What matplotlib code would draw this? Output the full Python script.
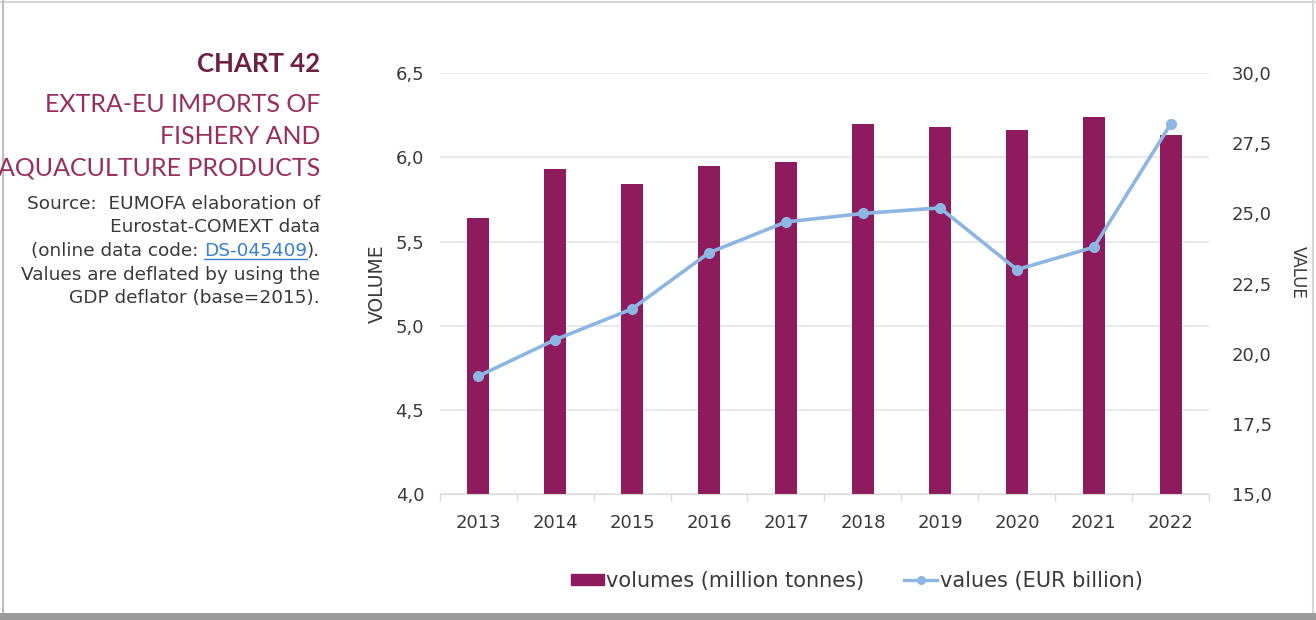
import matplotlib.pyplot as plt
import numpy as np
from matplotlib.ticker import FuncFormatter, FixedLocator
from matplotlib.patches import Patch
from matplotlib.lines import Line2D

# data
years = ['2013', '2014', '2015', '2016', '2017', '2018', '2019', '2020', '2021', '2022']
volumes = [5.64, 5.93, 5.84, 5.95, 5.97, 6.20, 6.18, 6.16, 6.24, 6.13]
values = [19.2, 20.5, 21.6, 23.6, 24.7, 25.0, 25.2, 23.0, 23.8, 28.2]

bar_color = '#8e1b5e'
line_color = '#8db6e2'
title_color = '#992d5e'
text_color = '#3a3a3a'

plt.rcParams['font.family'] = ['DejaVu Sans']

fig = plt.figure(figsize=(13.16, 6.2), dpi=100)
ax = fig.add_axes([0.334, 0.203, 0.585, 0.679])
ax2 = ax.twinx()

comma = FuncFormatter(lambda v, p: f'{v:.1f}'.replace('.', ','))

x = np.arange(len(years))
ax.bar(x, volumes, width=0.28, color=bar_color, zorder=2)
ax.set_ylim(4.0, 6.5)
ax.set_xlim(-0.5, len(years) - 0.5)
ax.set_yticks(np.arange(4.0, 6.51, 0.5))
ax.yaxis.set_major_formatter(comma)
ax.set_xticks(x)
ax.set_xticklabels(years)
ax.xaxis.set_minor_locator(FixedLocator(np.arange(-0.5, len(years), 1.0)))
ax.tick_params(axis='x', which='major', length=0, pad=14, labelsize=13, labelcolor=text_color)
ax.tick_params(axis='x', which='minor', length=5, color='#dadada', width=1)
ax.tick_params(axis='y', length=0, pad=11, labelsize=13, labelcolor=text_color)
ax.grid(axis='y', color='#e6e6e6', linewidth=1.2, zorder=0)
ax.set_axisbelow(True)
for s in ['top', 'right', 'left']:
    ax.spines[s].set_visible(False)
ax.spines['bottom'].set_color('#d9d9d9')
ax.set_ylabel('VOLUME', fontsize=13.5, color=text_color, labelpad=6)

ax2.plot(x, values, color=line_color, linewidth=2.6, marker='o', markersize=7, zorder=3)
ax2.set_ylim(15.0, 30.0)
ax2.set_yticks(np.arange(15.0, 30.1, 2.5))
ax2.yaxis.set_major_formatter(comma)
ax2.tick_params(axis='y', length=0, pad=16, labelsize=13, labelcolor=text_color)
for s in ['top', 'right', 'left', 'bottom']:
    ax2.spines[s].set_visible(False)
fig.text(0.986, 0.56, 'VALUE', rotation=270, fontsize=12, color=text_color, ha='center', va='center')

# legend
handles = [Patch(color=bar_color), Line2D([], [], color=line_color, linewidth=2.4, marker='o', markersize=5.5)]
fig.legend(handles, ['volumes (million tonnes)', 'values (EUR billion)'], loc='center',
           bbox_to_anchor=(0.651, 0.063), ncol=2, frameon=False, fontsize=15,
           handlelength=1.6, handleheight=0.5, handletextpad=0.1, columnspacing=1.9,
           labelcolor=text_color)

# left block of text
xr = 320 / 1316
fig.text(xr, 1 - 64 / 620, 'CHART 42', family='Lato', ha='right', va='center', fontsize=18.5,
         fontweight='bold', color='#6e1f42')
for i, line in enumerate(['EXTRA-EU IMPORTS OF', 'FISHERY AND', 'AQUACULTURE PRODUCTS']):
    fig.text(xr, 1 - (104 + 32 * i) / 620, line, family='Lato', ha='right', va='center',
             fontsize=18, color=title_color)

src_size = 13.3
src_lines = ['Source:  EUMOFA elaboration of', 'Eurostat-COMEXT data', None,
             'Values are deflated by using the', 'GDP deflator (base=2015).']
for i, line in enumerate(src_lines):
    if line is not None:
        fig.text(xr, 1 - (204 + 23.5 * i) / 620, line, ha='right', va='center', fontsize=src_size,
                 color=text_color)

# line with the link in blue
fig.canvas.draw()
renderer = fig.canvas.get_renderer()
ypos = 1 - (204 + 23.5 * 2) / 620
t_end = fig.text(xr, ypos, ').', ha='right', va='center', fontsize=src_size, color=text_color)
bb = t_end.get_window_extent(renderer)
t_link = fig.text(bb.x0 / fig.bbox.width, ypos, 'DS-045409', ha='right', va='center', fontsize=src_size,
                  color='#3a7fd0')
bb2 = t_link.get_window_extent(renderer)
fig.add_artist(Line2D([bb2.x0 / fig.bbox.width, bb2.x1 / fig.bbox.width],
                      [bb2.y0 / fig.bbox.height + 0.002] * 2, color='#3a7fd0', linewidth=1))
fig.text(bb2.x0 / fig.bbox.width, ypos, '(online data code: ', ha='right', va='center', fontsize=src_size,
         color=text_color)

# frame of the picture
fig.add_artist(Line2D([0, 1], [0.997, 0.997], color='#d6d6d6', linewidth=1.5))
fig.add_artist(Line2D([0.002, 0.002], [0, 1], color='#bdbdbd', linewidth=1.5))
fig.add_artist(Line2D([0.998, 0.998], [0, 1], color='#d6d6d6', linewidth=1.5))
fig.add_artist(Line2D([0, 1], [0.007, 0.007], color='#9a9a9a', linewidth=5))

fig.savefig('out.png', dpi=100)
